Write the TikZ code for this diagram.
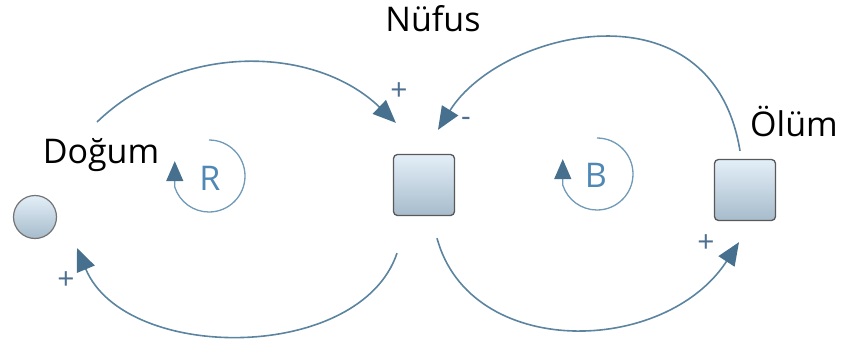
\documentclass[tikz,border=0pt]{standalone}
\usepackage{fontspec}
\setmainfont{Open Sans}
\usetikzlibrary{arrows.meta,calc,positioning}
\definecolor{linkcol}{HTML}{5B84A0}
\definecolor{headcol}{HTML}{46708D}
\definecolor{loopcol}{HTML}{6F9AB8}
\definecolor{polcol}{HTML}{4F87B5}
\definecolor{signcol}{HTML}{4F6F90}
\definecolor{boxtop}{HTML}{E3EFF8}
\definecolor{boxbot}{HTML}{A6BBCB}
\tikzset{
         stock/.style={draw=black!65,line width=1.3pt,rounded corners=4pt,
                       minimum width=61pt,minimum height=61pt,
                       top color=boxtop,bottom color=boxbot},
         source/.style={draw=black!55,line width=1.2pt,circle,minimum size=43pt,
                        top color=boxtop,bottom color=boxbot},
         lbl/.style={anchor=base,font=\fontsize{34}{40}\selectfont,inner sep=0pt},
         pol/.style={anchor=base,text=polcol,font=\fontsize{34}{40}\selectfont,inner sep=0pt},
         sign/.style={text=signcol,font=\fontsize{30}{34}\selectfont,inner sep=0pt},
         link/.style={draw=linkcol,line width=1.6pt,
                      -{Triangle[length=23pt,width=19pt,color=headcol,fill=headcol]}},
         loop/.style={draw=loopcol,line width=1.3pt,
                      -{Triangle[length=20pt,width=17pt,color=headcol,fill=headcol]}}
        }
\begin{document}
\begin{tikzpicture}[x=1pt,y=-1pt]
      \useasboundingbox (0,0) rectangle (842,354);
      \node[stock] (nufus) at (424,185) {}; % stock
      \node[stock] (olum) at (745,190) {}; % outflow
      \node[source] (kaynak) at (35,217) {}; % inflow
      \node[lbl] (nufuslbl) at (433,31) {Nüfus};
      \node[lbl] (dogum) at (101,163) {Doğum};
      \node[lbl] (olumlbl) at (794,136) {Ölüm};
      \node[pol] (rlbl) at (210,190) {R}; % reinforcing loop
      \node[pol] (blbl) at (596,187) {B}; % balancing loop
      \node[sign] (p1) at (399,92) {+};
      \node[sign] (m2) at (466,122) {-};
      \node[sign] (p3) at (66,281) {+};
      \node[sign] (p4) at (706,244) {+};
      \draw[link] ([shift={(-4,-41)}]dogum.base) .. controls (180,42) and (315,45) .. ([shift={(3,-31)}]nufus.north west); % birth to stock
      \draw[link] ([shift={(-5,-8)}]olum.north) .. controls (712,-21) and (500,30) .. ([shift={(14,-24)}]nufus.north); % stock to death
      \draw[link] ([shift={(-27,37)}]nufus.south) .. controls (360,363) and (125,363) .. ([shift={(42,31)}]kaynak.center); % stock to birth
      \draw[link] ([shift={(13,22)}]nufus.south) .. controls (470,360) and (665,356) .. ([shift={(-6,21)}]olum.south); % death to stock
      \draw[loop] ([shift={(-1,-50)}]rlbl.base) arc[start angle=-90,end angle=162,radius=36] -- ++(0,-26); % R loop
      \draw[loop] ([shift={(1,-49)}]blbl.base) arc[start angle=-90,end angle=162,radius=36] -- ++(0,-26); % B loop
\end{tikzpicture}
\end{document}
